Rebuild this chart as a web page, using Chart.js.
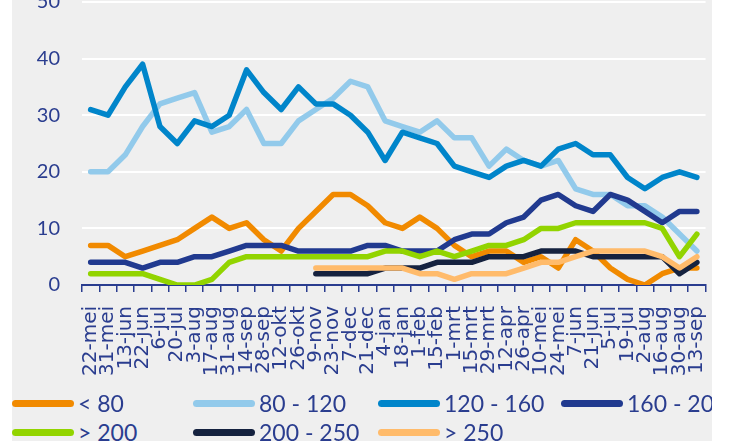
<!DOCTYPE html>
<html>
<head>
<meta charset="utf-8">
<script src="https://cdn.jsdelivr.net/npm/chart.js@4.4.0/dist/chart.umd.min.js"></script>
<style>
html, body { margin: 0; padding: 0; background: #fff; }
#wrap { position: relative; width: 729px; height: 441px; overflow: hidden; background: #fff; }
#panel { position: absolute; left: 12px; top: 0; width: 700px; height: 441px; background: #EFEFEF; overflow: hidden; }
#chartBox { position: absolute; left: 0; top: -32px; width: 723px; height: 442px; }
.item { position: absolute; display: flex; align-items: center; height: 28px; margin-top: -14px; }
.swatch { width: 62px; height: 7px; border-radius: 4px; }
.label { margin-left: 4px; font: 23px Lato, sans-serif; color: #2A3D8F; white-space: nowrap; }
</style>
</head>
<body>
<div id="wrap">
  <div id="panel">
    <div id="chartBox"><canvas id="chartWeeks"></canvas></div>
    <div id="legend"></div>
  </div>
</div>
<script>
Chart.defaults.font.family = "Lato, sans-serif";
Chart.defaults.color = '#2A3D8F';

const weeks = ['22-mei', '31-mei', '13-jun', '22-jun', '6-jul', '20-jul', '3-aug', '17-aug', '31-aug',
    '14-sep', '28-sep', '12-okt', '26-okt', '9-nov', '23-nov', '7-dec', '21-dec', '4-jan', '18-jan',
    '1-feb', '15-feb', '1-mrt', '15-mrt', '29-mrt', '12-apr', '26-apr', '10-mei', '24-mei', '7-jun',
    '21-jun', '5-jul', '19-jul', '2-aug', '16-aug', '30-aug', '13-sep'];

const under80 = [7, 7, 5, 6, 7, 8, 10, 12, 10, 11, 8, 6, 10, 13, 16, 16, 14, 11, 10, 12,
    10, 7, 5, 6, 6, 4, 5, 3, 8, 6, 3, 1, 0, 2, 3, 3];
const from80to120 = [20, 20, 23, 28, 32, 33, 34, 27, 28, 31, 25, 25, 29, 31, 33, 36, 35, 29, 28, 27,
    29, 26, 26, 21, 24, 22, 21, 22, 17, 16, 16, 14, 14, 12, 9, 6];
const from120to160 = [31, 30, 35, 39, 28, 25, 29, 28, 30, 38, 34, 31, 35, 32, 32, 30, 27, 22, 27, 26,
    25, 21, 20, 19, 21, 22, 21, 24, 25, 23, 23, 19, 17, 19, 20, 19];
const from160to200 = [4, 4, 4, 3, 4, 4, 5, 5, 6, 7, 7, 7, 6, 6, 6, 6, 7, 7, 6, 6,
    6, 8, 9, 9, 11, 12, 15, 16, 14, 13, 16, 15, 13, 11, 13, 13];
const over200 = [2, 2, 2, 2, 1, 0, 0, 1, 4, 5, 5, 5, 5, 5, 5, 5, 5, 6, 6, 5,
    6, 5, 6, 7, 7, 8, 10, 10, 11, 11, 11, 11, 11, 10, 5, 9];
const from200to250 = [null, null, null, null, null, null, null, null, null, null, null, null, null,
    2, 2, 2, 2, 3, 3, 3, 4, 4, 4, 5, 5, 5, 6, 6, 6, 5, 5, 5, 5, 5, 2, 4];
const over250 = [null, null, null, null, null, null, null, null, null, null, null, null, null,
    3, 3, 3, 3, 3, 3, 2, 2, 1, 2, 2, 2, 3, 4, 4, 5, 6, 6, 6, 6, 5, 3, 5];

const yTicks = [0, 10, 20, 30, 40, 50];

const series = [
    { label: '< 80', data: under80, color: '#F18A00' },
    { label: '80 - 120', data: from80to120, color: '#92CAEB' },
    { label: '120 - 160', data: from120to160, color: '#0085CA' },
    { label: '160 - 200', data: from160to200, color: '#213A8F' },
    { label: '> 200', data: over200, color: '#92D400' },
    { label: '200 - 250', data: from200to250, color: '#15223F' },
    { label: '> 250', data: over250, color: '#FFBB6B' }
];

// legenda in 4 kolommen
const legendCols = [0, 181, 366, 549];
const legendRows = [403, 432];
const legendEl = document.getElementById('legend');
series.forEach((s, i) => {
    const item = document.createElement('div');
    item.className = 'item';
    item.style.left = legendCols[i % 4] + 'px';
    item.style.top = legendRows[Math.floor(i / 4)] + 'px';
    item.innerHTML = `<div class="swatch" style="background:${s.color}"></div><span class="label">${s.label}</span>`;
    legendEl.appendChild(item);
});

const ctx = document.getElementById('chartWeeks').getContext('2d');
new Chart(ctx, {
    type: 'line',
    data: {
        labels: weeks,
        datasets: series.map((s, i) => ({
            label: s.label,
            data: s.data,
            borderColor: s.color,
            backgroundColor: s.color,
            borderWidth: 5.5,
            borderJoinStyle: 'round',
            borderCapStyle: 'round',
            pointRadius: 0,
            tension: 0,
            order: series.length - i
        }))
    },
    options: {
        responsive: true,
        maintainAspectRatio: false,
        animation: false,
        layout: { padding: { left: 12, right: 9, top: 21.5, bottom: 25 } },
        plugins: {
            legend: { display: false },
            tooltip: { enabled: false }
        },
        scales: {
            x: {
                offset: true,
                afterFit: (scale) => { scale.height = 100; },
                grid: {
                    offset: true,
                    drawOnChartArea: false,
                    drawTicks: true,
                    tickLength: 7,
                    color: '#2A3D8F',
                    lineWidth: 1.5
                },
                border: { color: '#2A3D8F', width: 2 },
                ticks: {
                    autoSkip: false,
                    minRotation: 90,
                    maxRotation: 90,
                    padding: 14,
                    font: { family: "'DejaVu Sans', sans-serif", size: 20 }
                }
            },
            y: {
                min: 0,
                max: 50,
                afterFit: (scale) => { scale.width = 58; },
                afterBuildTicks: (scale) => { scale.ticks = yTicks.map(v => ({ value: v })); },
                grid: { color: '#FFFFFF', lineWidth: 2, drawTicks: false },
                border: { display: false },
                ticks: { padding: 22, font: { size: 20 } }
            }
        }
    }
});
</script>
</body>
</html>
